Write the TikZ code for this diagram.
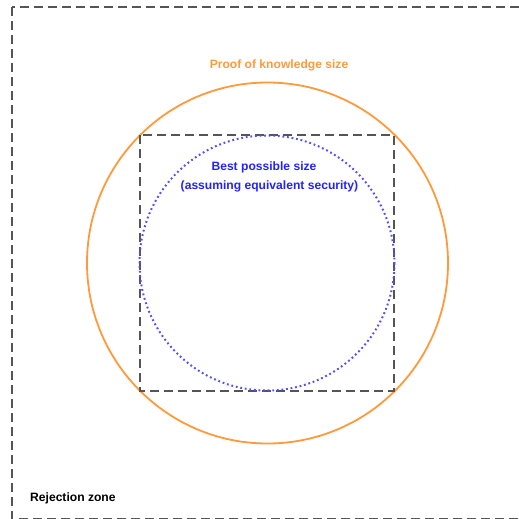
\documentclass[tikz,border=0pt]{standalone}
\usepackage{fontspec}
\setmainfont{Liberation Sans}
\definecolor{orangeC}{HTML}{FF9A3C}
\definecolor{blueC}{HTML}{2222FF}
\definecolor{dotC}{HTML}{5050FF}
\definecolor{grayC}{HTML}{555555}
\tikzset{
  zone/.style={draw=grayC, line width=1.6pt, dash pattern=on 9pt off 5pt},
  lbl/.style={font=\bfseries\fontsize{12.1}{14}\selectfont, inner sep=0pt},
}
\begin{document}
\begin{tikzpicture}[x=1pt,y=-1pt]
\useasboundingbox (0,0) rectangle (519,519);
\draw[zone] (12,7) rectangle (545,518.5);
\draw[orangeC, line width=1.8pt] (267.5,263) circle[radius=180.5];
\draw[zone] (140,135) rectangle (394,391);
\draw[dotC, line width=2pt, dash pattern=on 1.8pt off 2.8pt] (267,263) circle[radius=127.5];
\node[lbl, text=orangeC] (pok) at (279,65) {Proof of knowledge size};
\node[lbl, text=blueC] (best) at (264,167) {Best possible size};
\node[lbl, text=blueC] (assume) at (269.5,186) {(assuming equivalent security)};
\node[lbl, text=black, anchor=west] (rej) at (30,498.5) {Rejection zone};
\end{tikzpicture}
\end{document}
